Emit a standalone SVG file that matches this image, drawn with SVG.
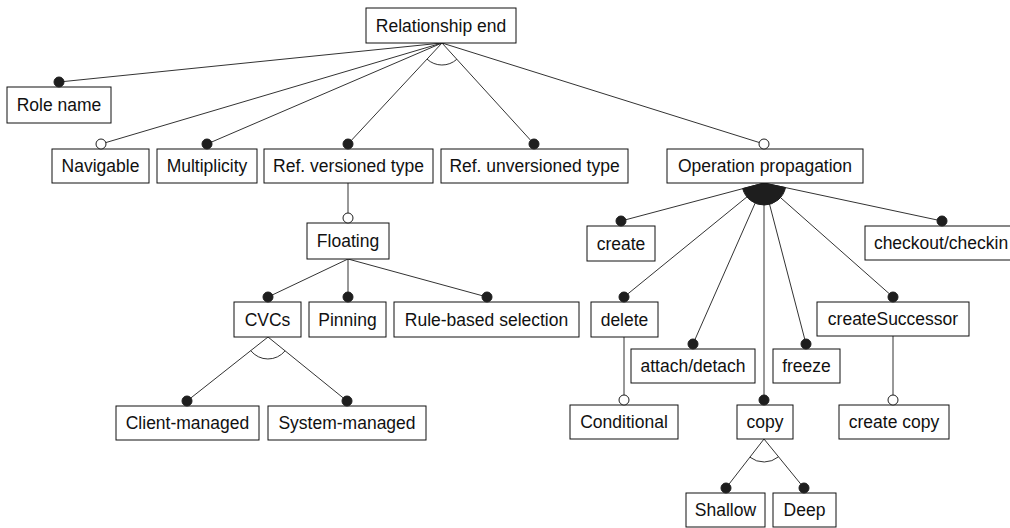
<svg xmlns="http://www.w3.org/2000/svg" width="1010" height="528" viewBox="0 0 1010 528">
  <style>
    .box { fill: #ffffff; stroke: #111111; stroke-width: 1; }
    .lbl { font-family: "Liberation Sans", Arial, sans-serif; font-size: 17.5px; fill: #111111; text-anchor: middle; }
    .edge { stroke: #333333; stroke-width: 1; fill: none; }
    .mand { fill: #1e1e1e; stroke: #1e1e1e; stroke-width: 1; }
    .opt { fill: #ffffff; stroke: #1e1e1e; stroke-width: 1; }
    .alt { fill: none; stroke: #333333; stroke-width: 1; }
    .orgrp { fill: #1e1e1e; stroke: #1e1e1e; stroke-width: 1; }
  </style>
  <rect width="1010" height="528" fill="#ffffff"/>

  <!-- connectors -->
  <g id="connectors">
    <!-- Relationship end -->
    <line class="edge" x1="442" y1="43" x2="59" y2="82"/>
    <line class="edge" x1="442" y1="43" x2="101" y2="144"/>
    <line class="edge" x1="442" y1="43" x2="207" y2="144"/>
    <line class="edge" x1="442" y1="43" x2="348" y2="144"/>
    <line class="edge" x1="442" y1="43" x2="534" y2="144"/>
    <line class="edge" x1="442" y1="43" x2="764" y2="144"/>
    <path class="alt" d="M427,59.1 A22,22 0 0 0 456.8,59.3"/>
    <!-- Ref. versioned type -> Floating -->
    <line class="edge" x1="348" y1="183" x2="348" y2="218"/>
    <!-- Floating -->
    <line class="edge" x1="348" y1="259" x2="268" y2="297"/>
    <line class="edge" x1="348" y1="259" x2="348" y2="297"/>
    <line class="edge" x1="348" y1="259" x2="487" y2="297"/>
    <!-- CVCs -->
    <line class="edge" x1="268" y1="337" x2="187" y2="401"/>
    <line class="edge" x1="268" y1="337" x2="347" y2="401"/>
    <path class="alt" d="M250.7,350.6 A22,22 0 0 0 285.1,350.8"/>
    <!-- Operation propagation -->
    <line class="edge" x1="764" y1="183" x2="621" y2="221"/>
    <line class="edge" x1="764" y1="183" x2="624" y2="297"/>
    <line class="edge" x1="764" y1="183" x2="693" y2="344"/>
    <line class="edge" x1="764" y1="183" x2="764" y2="400"/>
    <line class="edge" x1="764" y1="183" x2="806" y2="344"/>
    <line class="edge" x1="764" y1="183" x2="893" y2="297"/>
    <line class="edge" x1="764" y1="183" x2="942" y2="221"/>
    <path class="orgrp" d="M764,183 L742.7,188.6 A22,22 0 0 0 785.5,187.6 Z"/>
    <!-- delete / createSuccessor -->
    <line class="edge" x1="624" y1="337" x2="624" y2="400"/>
    <line class="edge" x1="893" y1="336" x2="893" y2="400"/>
    <!-- copy -->
    <line class="edge" x1="764" y1="439" x2="726" y2="488"/>
    <line class="edge" x1="764" y1="439" x2="804" y2="488"/>
    <path class="alt" d="M749.9,457.2 A23,23 0 0 0 778.5,456.8"/>
  </g>

  <!-- nodes -->
  <g id="relationship-end">
    <rect class="box" x="366" y="8" width="150" height="35"/>
    <text class="lbl" x="441" y="31.5">Relationship end</text>
  </g>
  <g id="role-name">
    <rect class="box" x="7" y="87" width="104" height="36"/>
    <circle class="mand" cx="59" cy="82" r="5"/>
    <text class="lbl" x="59" y="111">Role name</text>
  </g>
  <g id="navigable">
    <rect class="box" x="52" y="149" width="97" height="34"/>
    <circle class="opt" cx="101" cy="144" r="5"/>
    <text class="lbl" x="100.5" y="172">Navigable</text>
  </g>
  <g id="multiplicity">
    <rect class="box" x="157" y="149" width="100" height="34"/>
    <circle class="mand" cx="207" cy="144" r="5"/>
    <text class="lbl" x="207" y="172">Multiplicity</text>
  </g>
  <g id="ref-versioned-type">
    <rect class="box" x="264" y="149" width="169" height="34"/>
    <circle class="mand" cx="348" cy="144" r="5"/>
    <text class="lbl" x="348.5" y="172">Ref. versioned type</text>
  </g>
  <g id="ref-unversioned-type">
    <rect class="box" x="441" y="149" width="187" height="34"/>
    <circle class="mand" cx="534" cy="144" r="5"/>
    <text class="lbl" x="534.5" y="172">Ref. unversioned type</text>
  </g>
  <g id="operation-propagation">
    <rect class="box" x="667" y="149" width="196" height="34"/>
    <circle class="opt" cx="764" cy="144" r="5"/>
    <text class="lbl" x="765" y="172">Operation propagation</text>
  </g>
  <g id="floating">
    <rect class="box" x="307" y="223" width="82" height="36"/>
    <circle class="opt" cx="348" cy="218" r="5"/>
    <text class="lbl" x="348" y="247">Floating</text>
  </g>
  <g id="cvcs">
    <rect class="box" x="234" y="302" width="67" height="35"/>
    <circle class="mand" cx="268" cy="297" r="5"/>
    <text class="lbl" x="267.5" y="325.5">CVCs</text>
  </g>
  <g id="pinning">
    <rect class="box" x="309" y="302" width="77" height="35"/>
    <circle class="mand" cx="348" cy="297" r="5"/>
    <text class="lbl" x="347.5" y="325.5">Pinning</text>
  </g>
  <g id="rule-based-selection">
    <rect class="box" x="394" y="302" width="185" height="35"/>
    <circle class="mand" cx="487" cy="297" r="5"/>
    <text class="lbl" x="486.5" y="325.5">Rule-based selection</text>
  </g>
  <g id="client-managed">
    <rect class="box" x="116" y="406" width="143" height="34"/>
    <circle class="mand" cx="187" cy="401" r="5"/>
    <text class="lbl" x="187.5" y="429">Client-managed</text>
  </g>
  <g id="system-managed">
    <rect class="box" x="268" y="406" width="158" height="34"/>
    <circle class="mand" cx="347" cy="401" r="5"/>
    <text class="lbl" x="347" y="429">System-managed</text>
  </g>
  <g id="create">
    <rect class="box" x="587" y="226" width="68" height="35"/>
    <circle class="mand" cx="621" cy="221" r="5"/>
    <text class="lbl" x="621" y="249.5">create</text>
  </g>
  <g id="checkout-checkin">
    <rect class="box" x="865" y="226" width="154" height="34"/>
    <circle class="mand" cx="942" cy="221" r="5"/>
    <text class="lbl" x="941" y="249">checkout/checkin</text>
  </g>
  <g id="delete">
    <rect class="box" x="591" y="302" width="67" height="35"/>
    <circle class="mand" cx="624" cy="297" r="5"/>
    <text class="lbl" x="624.5" y="325.5">delete</text>
  </g>
  <g id="create-successor">
    <rect class="box" x="817" y="302" width="152" height="34"/>
    <circle class="mand" cx="893" cy="297" r="5"/>
    <text class="lbl" x="893" y="325">createSuccessor</text>
  </g>
  <g id="attach-detach">
    <rect class="box" x="631" y="349" width="124" height="34"/>
    <circle class="mand" cx="693" cy="344" r="5"/>
    <text class="lbl" x="693" y="372">attach/detach</text>
  </g>
  <g id="freeze">
    <rect class="box" x="773" y="349" width="67" height="34"/>
    <circle class="mand" cx="806" cy="344" r="5"/>
    <text class="lbl" x="806.5" y="372">freeze</text>
  </g>
  <g id="conditional">
    <rect class="box" x="570" y="405" width="108" height="34"/>
    <circle class="opt" cx="624" cy="400" r="5"/>
    <text class="lbl" x="624" y="428">Conditional</text>
  </g>
  <g id="copy">
    <rect class="box" x="737" y="405" width="56" height="34"/>
    <circle class="mand" cx="764" cy="400" r="5"/>
    <text class="lbl" x="765" y="428">copy</text>
  </g>
  <g id="create-copy">
    <rect class="box" x="839" y="405" width="110" height="34"/>
    <circle class="opt" cx="893" cy="400" r="5"/>
    <text class="lbl" x="894" y="428">create copy</text>
  </g>
  <g id="shallow">
    <rect class="box" x="686" y="493" width="79" height="34"/>
    <circle class="mand" cx="726" cy="488" r="5"/>
    <text class="lbl" x="725.5" y="516">Shallow</text>
  </g>
  <g id="deep">
    <rect class="box" x="773" y="493" width="63" height="34"/>
    <circle class="mand" cx="804" cy="488" r="5"/>
    <text class="lbl" x="804.5" y="516">Deep</text>
  </g>
</svg>
